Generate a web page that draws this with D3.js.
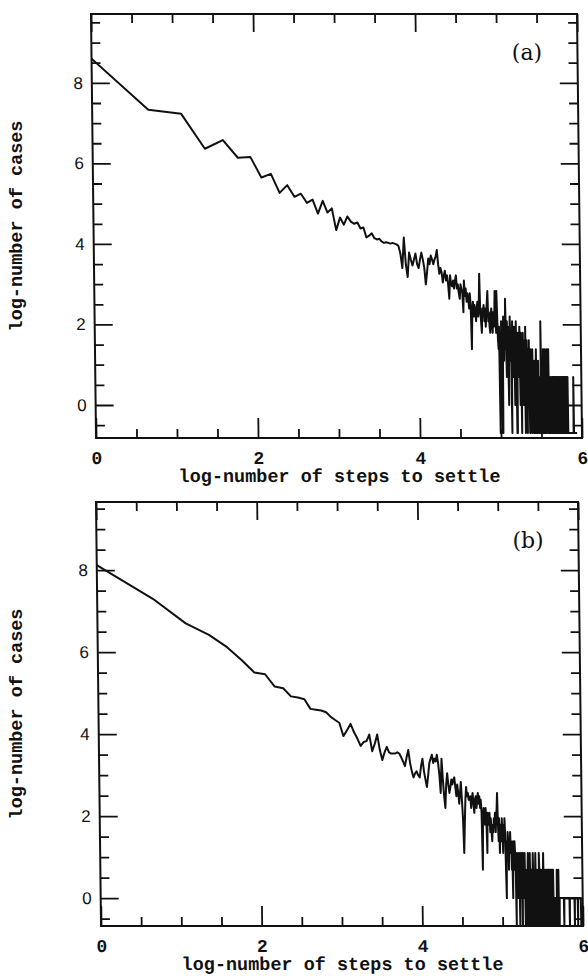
<!DOCTYPE html>
<html>
<head>
<meta charset="utf-8">
<script src="https://cdn.jsdelivr.net/npm/d3@7"></script>
<style>
  body { margin: 0; background: #fff; }
</style>
</head>
<body>
<div id="chart"></div>
<script>

// number of cases for each number of steps to settle (steps = index + 1)
var casesA = [
  5430, 1525, 1380, 580, 720, 464, 474, 284, 311, 194,
  235, 176, 190, 151, 164, 116, 159, 119, 132, 77,
  105, 88, 108, 95, 90, 93, 80, 82, 64, 67,
  71, 63, 61, 62, 58, 56, 57, 56, 55, 56,
  55, 54, 52, 43, 30, 64, 33, 24, 44, 37,
  32, 37, 43, 33, 30, 37, 44, 37, 30, 20,
  27, 38, 33, 41, 37, 33, 37, 40, 47, 33,
  26, 30, 27, 21, 25, 28, 22, 25, 20, 14,
  25, 20, 19, 22, 18, 22, 25, 18, 20, 16,
  14, 20, 18, 16, 10, 22, 15, 18, 13, 16,
  14, 11, 16, 12, 4, 10, 13, 9, 12, 10,
  8, 11, 13, 9, 12, 26, 10, 8, 6, 11,
  9, 12, 8, 11, 7, 10, 13, 17, 8, 10,
  7, 6, 9, 11, 8, 6, 10, 7, 9, 17,
  8, 6, 17, 9, 5, 4, 7, 0,
  6, 2, 8, 0, 0, 5, 9, 3, 7, 4, 14, 6,
  2, 8, 5, 5, 1, 7, 4, 9, 3, 6, 0, 5,
  8, 2, 6, 4, 7, 1, 5, 3, 8, 0, 0, 4,
  6, 2, 5, 3, 7, 1, 4, 6, 0, 3, 5, 2,
  6, 1, 4, 3, 5, 0, 7, 1, 3, 5, 0, 2,
  4, 1, 3, 5, 0, 0, 2, 4, 1, 3, 0, 2,
  4, 1, 3, 0, 2, 1, 3, 0, 0, 2, 4, 1,
  0, 3, 2, 1, 3, 0, 2, 1,
  0, 2, 1, 0, 8, 2, 0, 1, 2, 0, 1, 4,
  4, 0, 2, 1, 4, 0, 2, 1, 0, 2, 4, 4,
  1, 0, 2, 1, 4, 0, 2, 1, 0, 0, 2, 0,
  1, 2, 0, 1, 1, 2, 0, 1, 2, 0, 2, 1,
  0, 2, 1, 0, 2, 0, 1, 1, 2, 0, 2, 1,
  0, 2, 1, 0, 0, 2, 0, 1, 2, 0, 2, 1,
  0, 2, 0, 1, 1, 2, 0, 2, 1, 0, 2, 1,
  0, 2, 0, 1, 2, 0,
  2, 1, 0, 2, 0, 1, 2, 0, 1, 2,
  0, 0, 0, 0, 0, 0, 0, 0, 0, 0, 0, 0,
  0, 0, 0, 0, 0, 0, 0, 0, 0, 0, 0, 0,
  2,
  0, 0, 0, 0, 0, 0, 0, 0, 0, 0, 0, 0, 0, 0, 0
];

var casesB = [
  3360, 1480, 812, 614, 455, 330, 245, 235, 174, 167,
  137, 133, 128, 101, 99, 97, 93, 83, 77, 72,
  52, 60, 70, 57, 49, 41, 45, 46, 54, 36,
  43, 54, 37, 29, 35, 40, 35, 34, 34, 34,
  35, 34, 31, 28, 25, 31, 37, 27, 22, 19,
  21, 22, 20, 19, 25, 30, 22, 18, 15, 20,
  27, 30, 33, 27, 30, 28, 33, 27, 20, 13,
  30, 18, 12, 9, 16, 21, 16, 13, 15, 18,
  16, 18, 19, 15, 12, 16, 13, 10, 13, 17,
  11, 7, 3, 6, 11, 15, 12, 13, 11, 11,
  12, 9, 11, 13, 10, 8, 11, 12, 9, 11,
  13, 10, 12, 9, 11, 8, 2, 7, 9, 8,
  6, 9, 7, 3, 8, 7, 6, 8, 5, 7,
  5, 4, 6, 5, 7, 6, 8, 5, 7, 9,
  13, 6, 4, 7, 3, 5, 6, 4, 7, 5,
  3, 6, 4, 7, 5, 2, 1, 4, 3, 5,
  4, 2, 4, 3, 5, 3, 4, 2, 3, 1,
  4, 3, 2, 4, 3, 2, 0, 3, 2, 1,
  2, 3, 1, 2, 0, 3, 2, 1, 3, 2,
  0, 2, 3, 1, 2, 1, 3, 0, 2, 1,
  1, 2, 0, 2, 3, 1, 0, 2, 1, 3,
  0, 2, 1, 2, 0, 1, 2, 3, 1, 0,
  2, 1, 0, 2, 3, 1, 0, 2, 2, 1,
  0, 2, 1, 0, 3, 2, 0, 1, 2, 0,
  2, 1, 0, 2, 1, 0, 2, 3, 0, 2,
  1, 0, 2, 1, 0, 2, 2, 0, 1, 2,
  0, 1, 2, 0, 2, 1, 0, 2, 1, 0,
  2, 1, 0, 2, 0, 1, 2, 0, 1, 2,
  0, 1, 0, 1, 0, 1, 1, 0, 1, 0,
  1, 0, 2, 1, 0, 1, 0, 1, 2, 0, 1, 0,
  1, 1, 1, 1, 1, 1, 1, 1, 1, 1, 1, 1, 1, 1, 1, 1, 1,
  0,
  1, 1, 1, 1, 1, 1, 1, 1, 1, 1, 1, 1, 1, 1, 1, 1, 1, 1, 1, 1, 1, 1,
  0,
  1, 1, 1, 1, 1, 1, 1, 1, 1, 1, 1, 1, 1, 1, 1, 1, 1, 1, 1, 1, 1,
  0,
  1, 1, 1, 1, 1, 1, 1, 1, 1, 1, 1, 1, 1, 1,
  0,
  1, 1, 1, 1, 1, 1, 1, 1, 1, 1, 1, 1, 1, 1,
  0
];

var panelLabels = ["(a)", "(b)"];
// axis ticks, in log units
var xTicks = [0, 2, 4, 6];
var xMinor = [0.5, 1, 1.5, 2.5, 3, 3.5, 4.5, 5, 5.5];
var yTicks = [0, 2, 4, 6, 8];
var yMinor = [-0.5, 0.5, 1, 1.5, 2.5, 3, 3.5, 4.5, 5, 5.5, 6.5, 7, 7.5, 8.5, 9, 9.5];
var xTitle = "log-number of steps to settle";
var yTitle = "log-number of cases";

var W = 588, H = 976;
var panels = [
  {cases: casesA, label: panelLabels[0], left: 91, top: 14, width: 486, height: 424, yLo: -0.82, yHi: 9.71},
  {cases: casesB, label: panelLabels[1], left: 96, top: 502, width: 482, height: 424, yLo: -0.68, yHi: 9.66}
];

var svg = d3.select("#chart").append("svg")
    .attr("width", W).attr("height", H)
    .style("display", "block");

var monoFont = "'Liberation Mono', 'Courier New', monospace";
var sansFont = "'Liberation Sans', Arial, sans-serif";

panels.forEach(function(p, k) {
  // the scanned figure is slightly sheared, so skew each frame a little
  var g = svg.append("g")
      .attr("transform", "translate(" + p.left + "," + p.top + ") skewX(0.68)");

  var x = d3.scaleLog().base(Math.E).domain([1, Math.exp(6)]).range([0, p.width]);
  var y = d3.scaleLog().base(Math.E).domain([Math.exp(p.yLo), Math.exp(p.yHi)]).range([p.height, 0]);
  var lnLabel = function(d) { return Math.round(Math.log(d)); };

  g.append("clipPath").attr("id", "clip" + k)
    .append("rect").attr("width", p.width).attr("height", p.height);

  // the curve; steps with no cases are drawn at 0.5
  var line = d3.line()
      .x(function(d, i) { return x(i + 1); })
      .y(function(d) { return y(Math.max(d, 0.5)); });

  g.append("path")
    .datum(p.cases)
    .attr("clip-path", "url(#clip" + k + ")")
    .attr("d", line)
    .attr("fill", "none")
    .attr("stroke", "#111")
    .attr("stroke-width", 2)
    .attr("stroke-linejoin", "round");

  // ticks on all four sides, pointing in
  var xMaj = xTicks.map(Math.exp), xMin = xMinor.map(Math.exp);
  var yMaj = yTicks.map(Math.exp), yMin = yMinor.map(Math.exp);

  var axes = [
    {a: d3.axisBottom(x).tickValues(xMaj).tickSize(-20).tickPadding(13).tickFormat(lnLabel), t: [0, p.height], font: monoFont, fs: 18, fw: "bold"},
    {a: d3.axisBottom(x).tickValues(xMin).tickSize(-9).tickFormat(""), t: [0, p.height]},
    {a: d3.axisTop(x).tickValues(xMaj).tickSize(-18).tickFormat(""), t: [0, 0]},
    {a: d3.axisTop(x).tickValues(xMin).tickSize(-9).tickFormat(""), t: [0, 0]},
    {a: d3.axisLeft(y).tickValues(yMaj).tickSize(-18).tickPadding(9).tickFormat(lnLabel), t: [0, 0], font: sansFont, fs: 17, fw: "normal"},
    {a: d3.axisLeft(y).tickValues(yMin).tickSize(-9).tickFormat(""), t: [0, 0]},
    {a: d3.axisRight(y).tickValues(yMaj).tickSize(-18).tickFormat(""), t: [p.width, 0]},
    {a: d3.axisRight(y).tickValues(yMin).tickSize(-9).tickFormat(""), t: [p.width, 0]}
  ];

  axes.forEach(function(ax) {
    var ag = g.append("g")
        .attr("transform", "translate(" + ax.t[0] + "," + ax.t[1] + ")")
        .call(ax.a);
    ag.select(".domain").remove();
    ag.selectAll(".tick line").attr("stroke", "#111").attr("stroke-width", 1.8);
    ag.selectAll(".tick text")
      .attr("fill", "#111")
      .style("font-family", ax.font || sansFont)
      .style("font-size", (ax.fs || 12) + "px")
      .style("font-weight", ax.fw || "normal");
  });

  g.append("rect")
    .attr("width", p.width).attr("height", p.height)
    .attr("fill", "none")
    .attr("stroke", "#111")
    .attr("stroke-width", 2);

  g.append("text")
    .attr("x", p.width / 2)
    .attr("y", p.height + 44)
    .attr("text-anchor", "middle")
    .style("font-family", monoFont)
    .style("font-size", "18.5px")
    .style("font-weight", "bold")
    .attr("fill", "#111")
    .text(xTitle);

  svg.append("text")
    .attr("transform", "translate(22," + (p.top + p.height / 2) + ") rotate(-90)")
    .attr("text-anchor", "middle")
    .style("font-family", monoFont)
    .style("font-size", "18.5px")
    .style("font-weight", "bold")
    .attr("fill", "#111")
    .text(yTitle);

  svg.append("text")
    .attr("x", p.left + p.width - 50)
    .attr("y", p.top + 46)
    .attr("text-anchor", "middle")
    .style("font-family", "'DejaVu Serif', serif")
    .style("font-size", "22px")
    .attr("fill", "#111")
    .text(p.label);
});

</script>
</body>
</html>
